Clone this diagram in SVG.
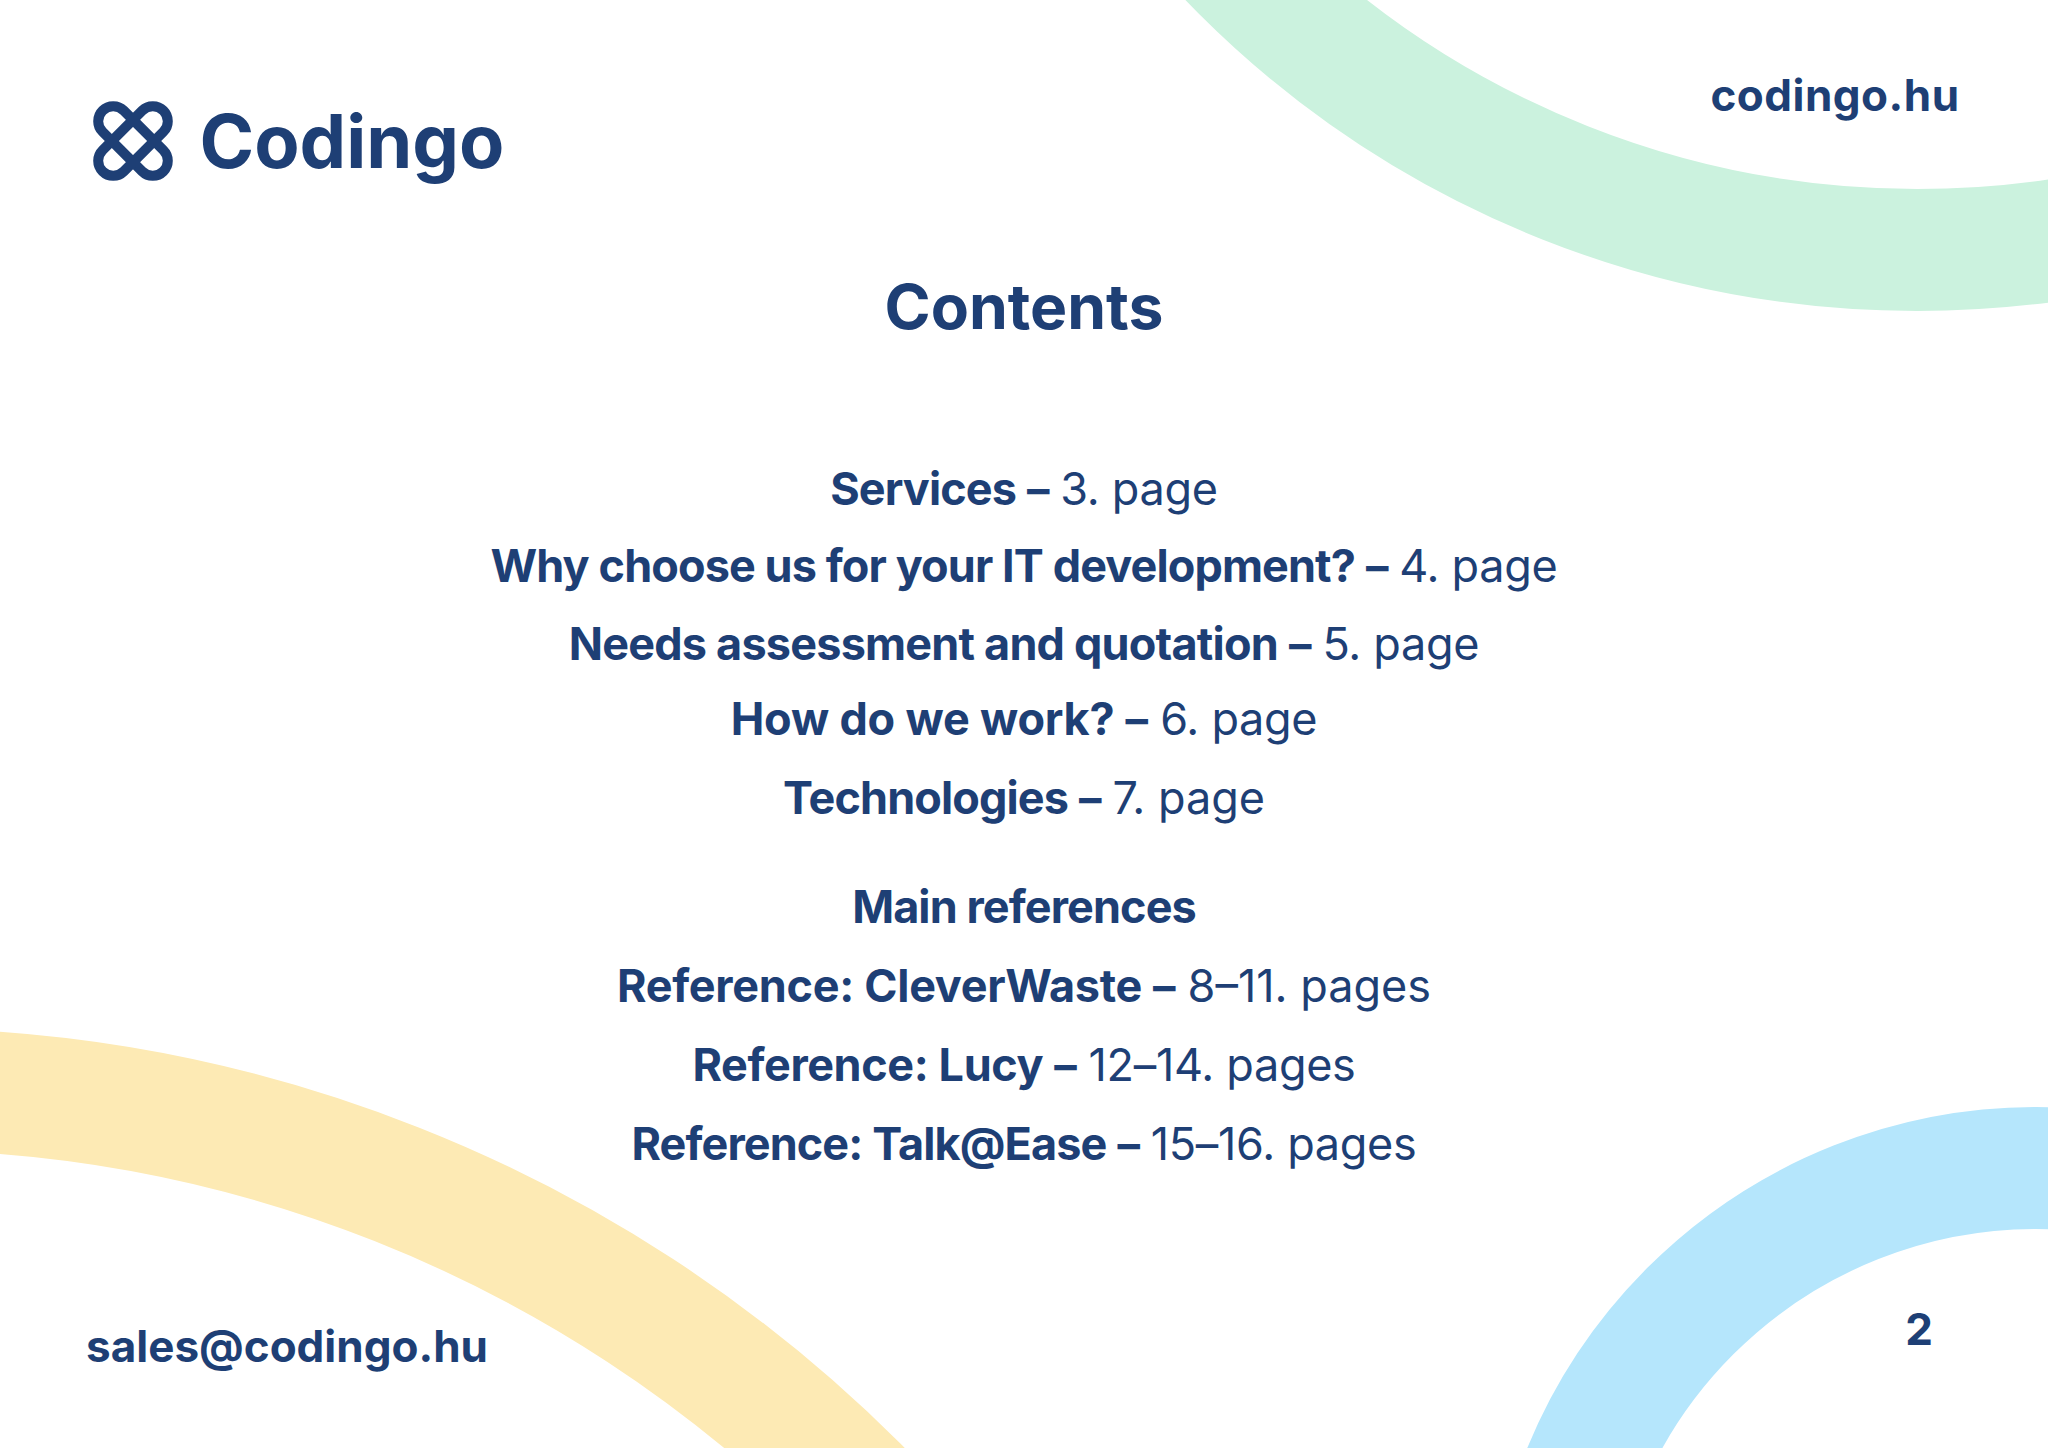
<svg xmlns="http://www.w3.org/2000/svg" width="2048" height="1448" viewBox="0 0 2048 1448">
<style>
text{font-family:"Inter","Liberation Sans",sans-serif;fill:#1e3f75;text-anchor:middle}
.t{font-size:45px;font-weight:700;letter-spacing:-0.9px}
.r{font-weight:400;letter-spacing:-0.3px}
.h{font-size:44px;font-weight:700}
.arc{fill:none;stroke-width:122}
.loop{fill:none;stroke:#1e3f75;stroke-width:10}
</style>
<rect width="2048" height="1448" fill="#ffffff"/>
<circle class="arc" stroke="#cbf2de" cx="1917" cy="-705" r="955"/>
<circle class="arc" stroke="#fdeab4" cx="-103" cy="2447" r="1358"/>
<circle class="arc" stroke="#b5e6fc" cx="2036" cy="1657" r="489"/>
<g id="logo">
<g transform="translate(133 141)">
<rect class="loop" x="-43" y="-15" width="86" height="30" rx="15" transform="rotate(45)"/>
<rect class="loop" x="-43" y="-15" width="86" height="30" rx="15" transform="rotate(-45)"/>
</g>
<text x="352" y="168" style="font-size:74px;font-weight:700">Codingo</text>
</g>
<text class="h" x="1835" y="111" style="letter-spacing:0.5px">codingo.hu</text>
<text x="1024" y="329" style="font-size:62.4px;font-weight:700">Contents</text>
<text class="t" x="1024" y="505">Services<tspan dx="11">–</tspan> <tspan class="r" dx="2">3. page</tspan></text>
<text class="t" x="1024" y="582">Why choose us for your IT development?<tspan dx="11">–</tspan> <tspan class="r" dx="2">4. page</tspan></text>
<text class="t" x="1024" y="660" style="letter-spacing:-0.8px">Needs assessment and quotation<tspan dx="11">–</tspan> <tspan class="r" dx="2">5. page</tspan></text>
<text class="t" x="1024" y="735" style="letter-spacing:-0.2px">How do we work?<tspan dx="11">–</tspan> <tspan class="r" dx="2">6. page</tspan></text>
<text class="t" x="1024" y="814">Technologies<tspan dx="11">–</tspan> <tspan class="r" dx="2" style="letter-spacing:0">7. page</tspan></text>
<text class="t" x="1024" y="923">Main references</text>
<text class="t" x="1024" y="1002" style="letter-spacing:-0.3px">Reference: CleverWaste<tspan dx="11">–</tspan> <tspan class="r" dx="2" style="letter-spacing:0">8–11. pages</tspan></text>
<text class="t" x="1024" y="1081" style="letter-spacing:-0.4px">Reference: Lucy<tspan dx="11">–</tspan> <tspan class="r" dx="2">12–14. pages</tspan></text>
<text class="t" x="1024" y="1160">Reference: Talk@Ease<tspan dx="11">–</tspan> <tspan class="r" dx="2">15–16. pages</tspan></text>
<text class="h" x="287" y="1362">sales@codingo.hu</text>
<text class="h" x="1919" y="1345">2</text>
</svg>
